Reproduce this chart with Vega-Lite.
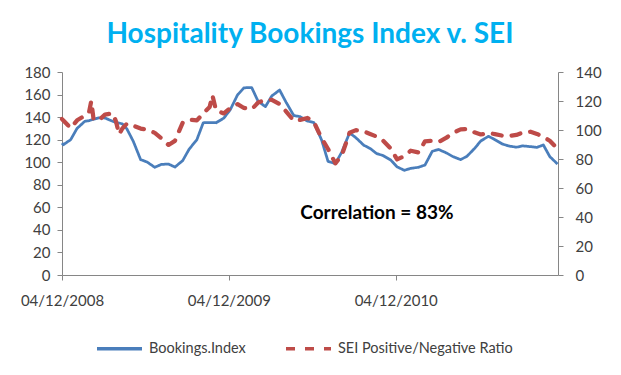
{
  "$schema": "https://vega.github.io/schema/vega-lite/v6.json",
  "width": 496,
  "height": 203,
  "autosize": "none",
  "padding": {"left": 62, "top": 72, "right": 63, "bottom": 100},
  "background": "white",
  "config": {
    "view": {"stroke": null},
    "font": "Lato",
    "axis": {"grid": false, "domainColor": "#868686", "tickColor": "#868686", "tickSize": 5, "labelFont": "Lato", "labelFontSize": 15, "labelColor": "#404040", "title": null, "labelOverlap": false},
    "legend": {"symbolType": "stroke", "symbolSize": 2025, "symbolStrokeWidth": 3.5, "labelFont": "Lato", "labelFontSize": 14.5, "labelColor": "#404040", "columnPadding": 33, "labelOffset": 5, "labelLimit": 400, "direction": "horizontal", "orient": "none", "legendX": 33, "legendY": 252}
  },
  "title": {"text": "Hospitality Bookings Index v. SEI", "font": "Lato", "fontSize": 28, "fontWeight": "bold", "color": "#00B0F0", "anchor": "middle", "offset": 16},
  "data": {"values": [
    {"date": "2008-04-12", "bookings": 117, "sei": 107.5},
    {"date": "2008-04-15", "bookings": 115.5, "sei": 106.5},
    {"date": "2008-05-01", "bookings": 120, "sei": 101.3},
    {"date": "2008-05-15", "bookings": 130, "sei": 106.7},
    {"date": "2008-06-01", "bookings": 136.3, "sei": 109.9},
    {"date": "2008-06-10", "bookings": 136.8, "sei": 112},
    {"date": "2008-06-15", "bookings": 137.5, "sei": 120},
    {"date": "2008-06-20", "bookings": 138, "sei": 107.5},
    {"date": "2008-07-01", "bookings": 139.3, "sei": 106.5},
    {"date": "2008-07-15", "bookings": 139.2, "sei": 110.6},
    {"date": "2008-08-01", "bookings": 136.3, "sei": 111.5},
    {"date": "2008-08-08", "bookings": 135.2, "sei": 106},
    {"date": "2008-08-15", "bookings": 134.7, "sei": 97},
    {"date": "2008-08-22", "bookings": 134, "sei": 101},
    {"date": "2008-09-01", "bookings": 129.5, "sei": 104.4},
    {"date": "2008-09-15", "bookings": 118.5, "sei": 103},
    {"date": "2008-10-01", "bookings": 102.3, "sei": 101},
    {"date": "2008-10-15", "bookings": 100.2, "sei": 100.2},
    {"date": "2008-11-01", "bookings": 95.5, "sei": 98},
    {"date": "2008-11-15", "bookings": 98, "sei": 94.4},
    {"date": "2008-12-01", "bookings": 98.4, "sei": 89.7},
    {"date": "2008-12-15", "bookings": 95.7, "sei": 92.5},
    {"date": "2009-01-01", "bookings": 101.4, "sei": 105},
    {"date": "2009-01-15", "bookings": 111.5, "sei": 107.1},
    {"date": "2009-02-01", "bookings": 120, "sei": 106.6},
    {"date": "2009-02-15", "bookings": 135, "sei": 111.5},
    {"date": "2009-03-01", "bookings": 135.2, "sei": 115.9},
    {"date": "2009-03-07", "bookings": 135.1, "sei": 124},
    {"date": "2009-03-15", "bookings": 135, "sei": 113.5},
    {"date": "2009-04-01", "bookings": 139.1, "sei": 111.4},
    {"date": "2009-04-15", "bookings": 146.5, "sei": 115.1},
    {"date": "2009-05-01", "bookings": 159.7, "sei": 117.8},
    {"date": "2009-05-15", "bookings": 166, "sei": 115.2},
    {"date": "2009-06-01", "bookings": 166.2, "sei": 114.3},
    {"date": "2009-06-15", "bookings": 154, "sei": 118.9},
    {"date": "2009-07-01", "bookings": 149.3, "sei": 120.8},
    {"date": "2009-07-15", "bookings": 158.8, "sei": 120.8},
    {"date": "2009-08-01", "bookings": 164, "sei": 117.9},
    {"date": "2009-08-15", "bookings": 153.3, "sei": 112.9},
    {"date": "2009-09-01", "bookings": 141.4, "sei": 106.4},
    {"date": "2009-09-15", "bookings": 140.4, "sei": 107},
    {"date": "2009-10-01", "bookings": 136.5, "sei": 108.3},
    {"date": "2009-10-15", "bookings": 135.2, "sei": 105.5},
    {"date": "2009-11-01", "bookings": 119.6, "sei": 94.2},
    {"date": "2009-11-15", "bookings": 100.7, "sei": 86.9},
    {"date": "2009-12-01", "bookings": 98.8, "sei": 77},
    {"date": "2009-12-15", "bookings": 109, "sei": 82.5},
    {"date": "2010-01-01", "bookings": 126, "sei": 98.1},
    {"date": "2010-01-15", "bookings": 121.7, "sei": 99.9},
    {"date": "2010-02-01", "bookings": 115.1, "sei": 99},
    {"date": "2010-02-15", "bookings": 112.2, "sei": 97.3},
    {"date": "2010-03-01", "bookings": 107.7, "sei": 95.5},
    {"date": "2010-03-15", "bookings": 106, "sei": 92.8},
    {"date": "2010-04-01", "bookings": 102, "sei": 87.3},
    {"date": "2010-04-15", "bookings": 95.9, "sei": 79.7},
    {"date": "2010-05-01", "bookings": 92.8, "sei": 82},
    {"date": "2010-05-15", "bookings": 94.6, "sei": 85.7},
    {"date": "2010-06-01", "bookings": 95.5, "sei": 84.5},
    {"date": "2010-06-15", "bookings": 97.5, "sei": 92.2},
    {"date": "2010-07-01", "bookings": 109.7, "sei": 92.5},
    {"date": "2010-07-15", "bookings": 111.3, "sei": 91.8},
    {"date": "2010-08-01", "bookings": 108.2, "sei": 94.7},
    {"date": "2010-08-15", "bookings": 105, "sei": 98},
    {"date": "2010-09-01", "bookings": 102.3, "sei": 100.4},
    {"date": "2010-09-15", "bookings": 105.3, "sei": 100.7},
    {"date": "2010-10-01", "bookings": 112, "sei": 98.4},
    {"date": "2010-10-15", "bookings": 118.8, "sei": 96.9},
    {"date": "2010-11-01", "bookings": 123, "sei": 97.9},
    {"date": "2010-11-15", "bookings": 120, "sei": 97.2},
    {"date": "2010-12-01", "bookings": 116.2, "sei": 96.1},
    {"date": "2010-12-15", "bookings": 114.4, "sei": 95.9},
    {"date": "2011-01-01", "bookings": 113.3, "sei": 96.6},
    {"date": "2011-01-15", "bookings": 114.5, "sei": 98.2},
    {"date": "2011-02-01", "bookings": 113.8, "sei": 98.8},
    {"date": "2011-02-15", "bookings": 113.2, "sei": 97.3},
    {"date": "2011-03-01", "bookings": 115.3, "sei": 95.2},
    {"date": "2011-03-15", "bookings": 105, "sei": 92.6},
    {"date": "2011-04-01", "bookings": 98.4, "sei": 87}
  ]},
  "encoding": {
    "x": {
      "field": "date",
      "type": "temporal",
      "scale": {"type": "utc", "domain": [{"year": 2008, "month": 4, "date": 12, "utc": true}, {"year": 2011, "month": 4, "date": 2, "utc": true}]},
      "axis": {
        "values": [{"year": 2008, "month": 4, "date": 12, "utc": true}, {"year": 2009, "month": 4, "date": 12, "utc": true}, {"year": 2010, "month": 4, "date": 12, "utc": true}],
        "labelExpr": "utcFormat(datum.value, '%m/%d/%Y')",
        "labelPadding": 13,
        "labelFlush": false,
        "labelAlign": "center"
      }
    }
  },
  "layer": [
    {
      "layer": [
        {
          "transform": [{"fold": ["bookings", "sei"], "as": ["series", "value"]}, {"filter": "datum.series === 'bookings'"}],
          "mark": {"type": "line", "strokeWidth": 2.75, "strokeJoin": "round"},
          "encoding": {
            "y": {"field": "value", "type": "quantitative", "scale": {"domain": [0, 180], "nice": false}, "axis": {"orient": "left", "values": [0, 20, 40, 60, 80, 100, 120, 140, 160, 180], "labelPadding": 7}},
            "color": {"field": "series", "type": "nominal", "scale": {"domain": ["bookings", "sei"], "range": ["#4A7EBB", "#BE4B48"]}, "legend": {"title": null, "labelExpr": "datum.label === 'bookings' ? 'Bookings.Index' : 'SEI Positive/Negative Ratio'"}},
            "strokeDash": {"field": "series", "type": "nominal", "scale": {"domain": ["bookings", "sei"], "range": [[1, 0], [9, 10]]}, "legend": {"title": null, "labelExpr": "datum.label === 'bookings' ? 'Bookings.Index' : 'SEI Positive/Negative Ratio'"}}
          }
        },
        {
          "data": {"values": [{"date": "2010-03-02", "value": 55, "label": "Correlation = 83%"}]},
          "mark": {"type": "text", "font": "Lato", "fontSize": 19, "fontWeight": "bold", "color": "#000000", "align": "center", "baseline": "middle"},
          "encoding": {
            "y": {"field": "value", "type": "quantitative", "axis": {"orient": "left", "values": [0, 20, 40, 60, 80, 100, 120, 140, 160, 180], "labelPadding": 7}},
            "text": {"field": "label"}
          }
        }
      ]
    },
    {
      "transform": [{"fold": ["bookings", "sei"], "as": ["series", "value"]}, {"filter": "datum.series === 'sei'"}],
      "mark": {"type": "line", "strokeWidth": 4.25, "strokeCap": "round", "strokeJoin": "round"},
      "encoding": {
        "y": {"field": "value", "type": "quantitative", "scale": {"domain": [0, 140], "nice": false}, "axis": {"orient": "right", "values": [0, 20, 40, 60, 80, 100, 120, 140], "labelPadding": 12}},
        "color": {"field": "series", "type": "nominal", "scale": {"domain": ["bookings", "sei"], "range": ["#4A7EBB", "#BE4B48"]}, "legend": {"title": null, "labelExpr": "datum.label === 'bookings' ? 'Bookings.Index' : 'SEI Positive/Negative Ratio'"}},
        "strokeDash": {"field": "series", "type": "nominal", "scale": {"domain": ["bookings", "sei"], "range": [[1, 0], [9, 10]]}, "legend": {"title": null, "labelExpr": "datum.label === 'bookings' ? 'Bookings.Index' : 'SEI Positive/Negative Ratio'"}}
      }
    }
  ],
  "resolve": {"scale": {"y": "independent"}}
}
